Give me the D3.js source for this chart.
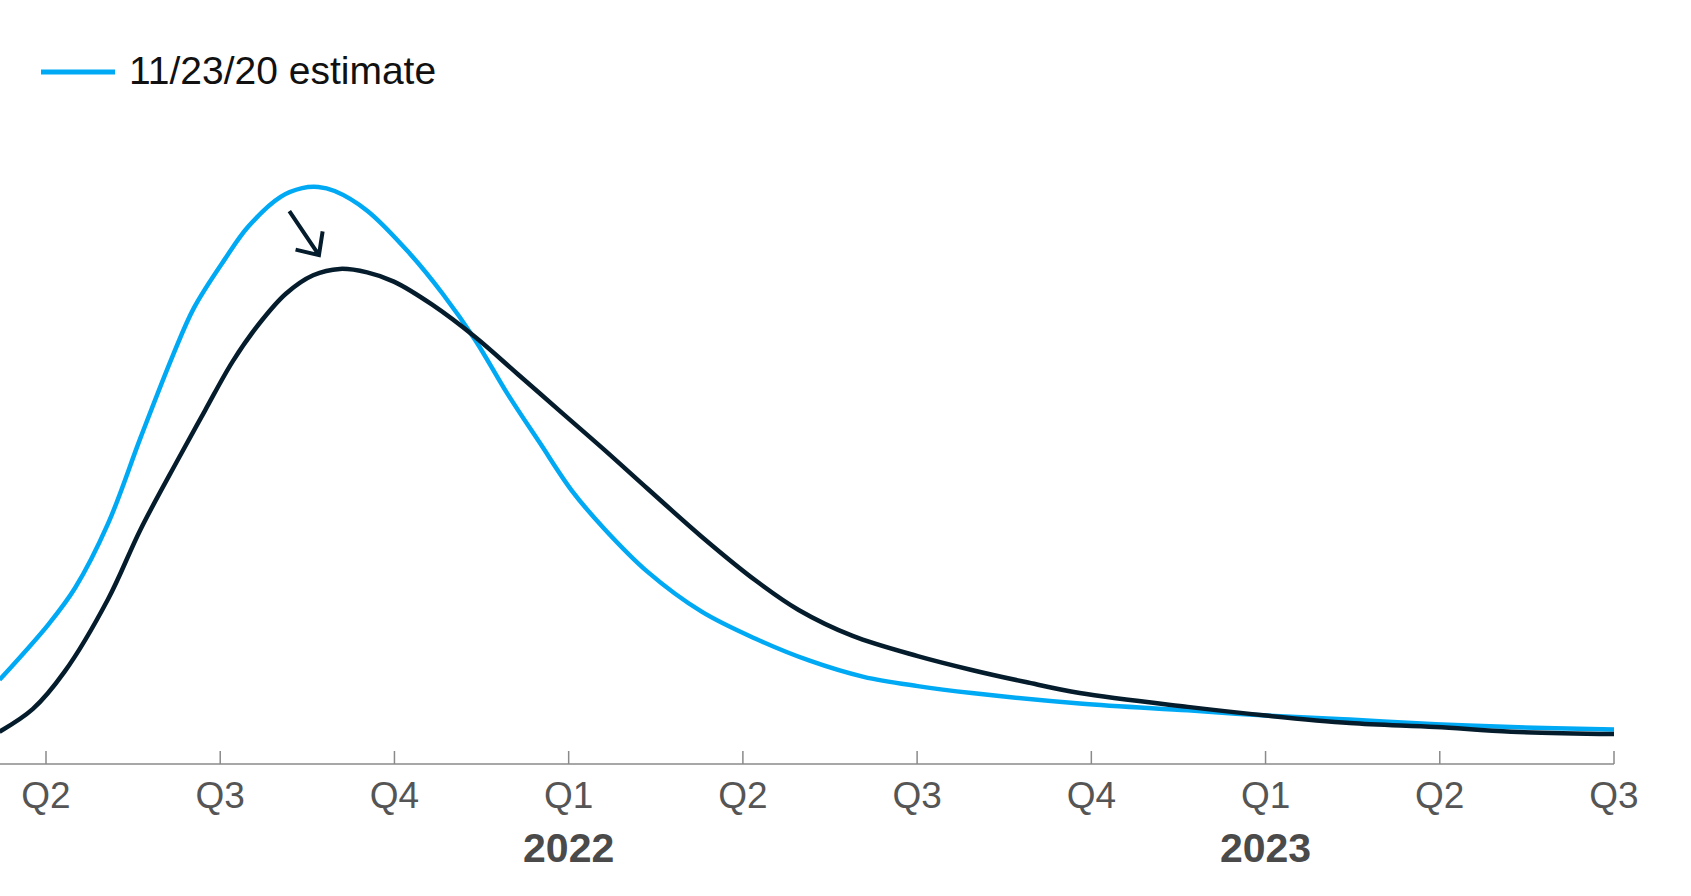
<!DOCTYPE html>
<html>
<head>
<meta charset="utf-8">
<script src="https://cdn.jsdelivr.net/npm/d3@7"></script>
<style>
  html, body { margin: 0; padding: 0; background: #ffffff; }
  svg { display: block; }
  text { font-family: "Liberation Sans", Arial, sans-serif; }
</style>
</head>
<body>
<svg id="chart" width="1691" height="896"></svg>
<script>
// ---- Data (x in months since start of Q2 2021, y in relative units; blue peak = 100) ----
const quarterLabels = ["Q2", "Q3", "Q4", "Q1", "Q2", "Q3", "Q4", "Q1", "Q2", "Q3"];
const quarterMonths = [0, 3, 6, 9, 12, 15, 18, 21, 24, 27];
const yearLabels = ["2022", "2023"];
const yearMonths = [9, 21];

const legendLabel = "11/23/20 estimate";

const blueMonths = [-0.8, 0.05, 0.5, 1.07, 1.63, 2.18, 2.55, 3.08, 3.48, 4.04, 4.41, 4.69, 4.97, 5.53, 6.27, 6.83, 7.39, 7.95, 8.5, 9.06, 9.62, 10.36, 11.29, 12.22, 13.15, 14.08, 15.01, 15.94, 17.8, 19.66, 21.01, 22.45, 23.93, 25.23, 27.0];
const blueValues = [14.6, 24.3, 30.5, 41.7, 56.6, 70.7, 79.1, 87.5, 93.1, 98.3, 99.8, 100, 99.3, 95.9, 88.4, 81.5, 73.5, 64.1, 55.7, 47.3, 40.7, 33.3, 26.4, 21.7, 17.9, 15.1, 13.5, 12.3, 10.5, 9.3, 8.4, 7.7, 6.9, 6.4, 6.0];

const blackMonths = [-0.8, -0.23, 0.32, 1.07, 1.63, 2.28, 2.74, 3.21, 3.67, 4.13, 4.6, 5.06, 5.53, 5.99, 6.65, 7.39, 8.13, 8.88, 9.62, 10.36, 11.29, 12.22, 12.96, 13.89, 15.01, 15.94, 16.87, 17.8, 19.66, 21.01, 22.45, 23.93, 25.23, 27.0];
const blackValues = [5.6, 9.5, 16.0, 28.6, 40.7, 52.9, 61.3, 69.7, 76.3, 81.5, 84.7, 85.8, 85.2, 83.6, 79.6, 74.0, 67.5, 60.9, 54.4, 47.7, 39.4, 31.8, 26.7, 22.2, 18.7, 16.3, 14.2, 12.3, 9.9, 8.4, 7.1, 6.4, 5.6, 5.2];

// Annotation arrow (data coordinates): from start to tip
const arrowStart = [4.19, 95.8];
const arrowTip = [4.70, 88.2];

// ---- Layout ----
const BLUE = "#00a9f4";
const DARK = "#051c2c";
const svg = d3.select("#chart");
const axisY = 764;

const x = d3.scaleLinear().domain([0, 27]).range([46, 1614]);
const y = d3.scaleLinear().domain([0, 100]).range([axisY, 187]);

const blueData = blueMonths.map((m, i) => [m, blueValues[i]]);
const blackData = blackMonths.map((m, i) => [m, blackValues[i]]);

const line = d3.line()
  .x(d => x(d[0]))
  .y(d => y(d[1]))
  .curve(d3.curveCatmullRom.alpha(0.5));

// ---- Axis ----
const axis = d3.axisBottom(x)
  .tickValues(quarterMonths)
  .tickSize(0)
  .tickFormat("");

const gAxis = svg.append("g").attr("transform", `translate(0,${axisY})`).call(axis);
gAxis.select(".domain").remove();
gAxis.append("line")
  .attr("x1", 0).attr("x2", x(27))
  .attr("y1", 0).attr("y2", 0)
  .attr("stroke", "#8a8a8a").attr("stroke-width", 1.5);

gAxis.selectAll(".qtick")
  .data(quarterMonths)
  .enter().append("line")
  .attr("class", "qtick")
  .attr("x1", d => x(d)).attr("x2", d => x(d))
  .attr("y1", -13).attr("y2", 0)
  .attr("stroke", "#8a8a8a").attr("stroke-width", 1.5);

svg.append("g").selectAll("text")
  .data(quarterMonths)
  .enter().append("text")
  .attr("x", d => x(d))
  .attr("y", 808)
  .attr("text-anchor", "middle")
  .attr("font-size", 37)
  .attr("fill", "#555555")
  .text((d, i) => quarterLabels[i]);

svg.append("g").selectAll("text")
  .data(yearMonths)
  .enter().append("text")
  .attr("x", d => x(d))
  .attr("y", 862)
  .attr("text-anchor", "middle")
  .attr("font-size", 41)
  .attr("font-weight", "bold")
  .attr("fill", "#4a4a4a")
  .text((d, i) => yearLabels[i]);

// ---- Lines ----
svg.append("path")
  .datum(blueData)
  .attr("fill", "none")
  .attr("stroke", BLUE)
  .attr("stroke-width", 4.5)
  .attr("d", line);

svg.append("path")
  .datum(blackData)
  .attr("fill", "none")
  .attr("stroke", DARK)
  .attr("stroke-width", 4.5)
  .attr("d", line);

// ---- Arrow annotation ----
const ax0 = x(arrowStart[0]), ay0 = y(arrowStart[1]);
const ax1 = x(arrowTip[0]), ay1 = y(arrowTip[1]);
const ang = Math.atan2(ay1 - ay0, ax1 - ax0);
const headLen = 24, headAng = Math.PI / 4.2;
const hx1 = ax1 - headLen * Math.cos(ang - headAng), hy1 = ay1 - headLen * Math.sin(ang - headAng);
const hx2 = ax1 - headLen * Math.cos(ang + headAng), hy2 = ay1 - headLen * Math.sin(ang + headAng);
const arrowPath = d3.path();
arrowPath.moveTo(ax0, ay0); arrowPath.lineTo(ax1, ay1);
arrowPath.moveTo(hx1, hy1); arrowPath.lineTo(ax1, ay1); arrowPath.lineTo(hx2, hy2);
svg.append("path")
  .attr("d", arrowPath.toString())
  .attr("fill", "none")
  .attr("stroke", DARK)
  .attr("stroke-width", 4)
  .attr("stroke-linejoin", "miter");

// ---- Legend ----
const legend = svg.append("g");
legend.append("line")
  .attr("x1", 41).attr("x2", 115)
  .attr("y1", 72).attr("y2", 72)
  .attr("stroke", BLUE).attr("stroke-width", 5);
legend.append("text")
  .attr("x", 129).attr("y", 84)
  .attr("font-size", 39)
  .attr("fill", "#111111")
  .text(legendLabel);
</script>
</body>
</html>
